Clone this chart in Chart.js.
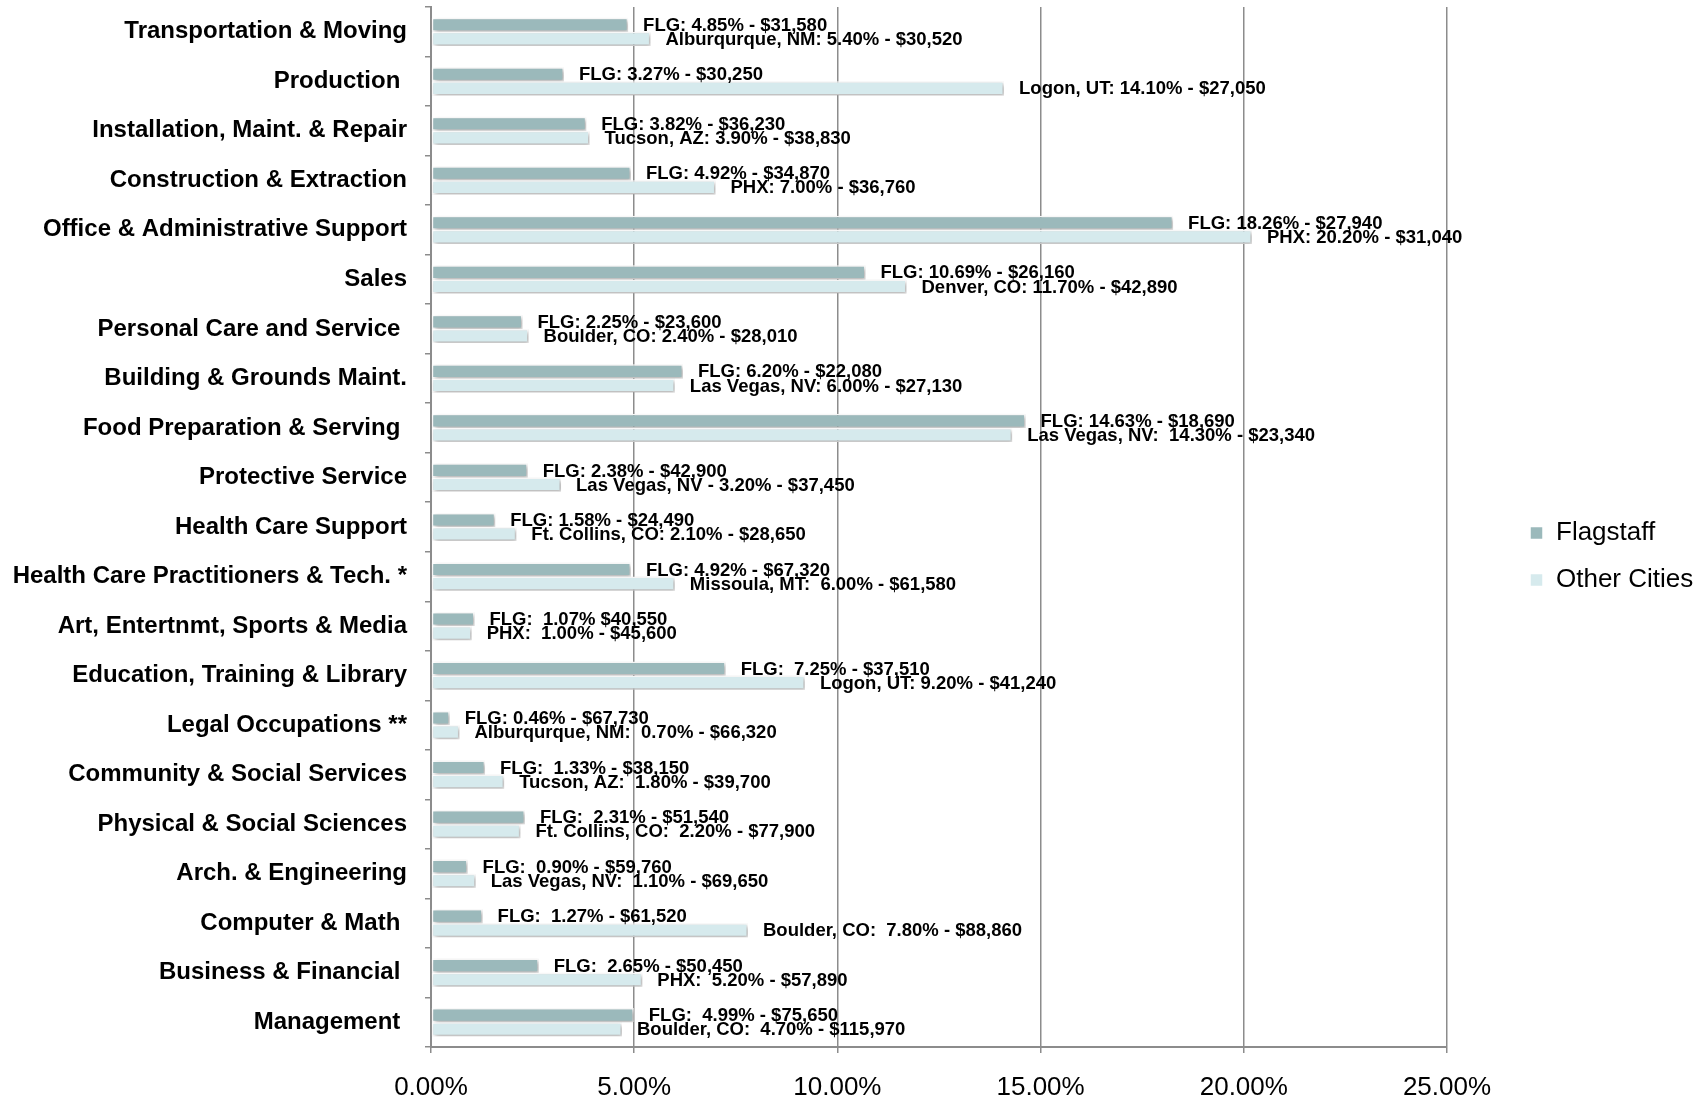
<!DOCTYPE html>
<html>
<head>
<meta charset="utf-8">
<title>Flagstaff vs Other Cities</title>
<script src="https://cdn.jsdelivr.net/npm/chart.js@4"></script>
<style>
  html, body { margin: 0; padding: 0; background: #fff; }
  #wrap { width: 1704px; height: 1099px; }
</style>
</head>
<body>
<div id="wrap"><canvas id="barChart"></canvas></div>
<script>
// Occupation groups, top to bottom (trailing spaces kept as in the original)
const categories = [
    'Transportation & Moving', 'Production ', 'Installation, Maint. & Repair',
    'Construction & Extraction', 'Office & Administrative Support', 'Sales',
    'Personal Care and Service ', 'Building & Grounds Maint.', 'Food Preparation & Serving ',
    'Protective Service', 'Health Care Support', 'Health Care Practitioners & Tech. *',
    'Art, Entertnmt, Sports & Media', 'Education, Training & Library', 'Legal Occupations **',
    'Community & Social Services', 'Physical & Social Sciences', 'Arch. & Engineering',
    'Computer & Math ', 'Business & Financial ', 'Management '
];

// Share of employment (%)
const flagstaffValues = [
    4.85, 3.27, 3.82, 4.92, 18.26, 10.69, 2.25, 6.20, 14.63, 2.38, 1.58,
    4.92, 1.07, 7.25, 0.46, 1.33, 2.31, 0.90, 1.27, 2.65, 4.99
];
const otherCityValues = [
    5.40, 14.10, 3.90, 7.00, 20.20, 11.70, 2.40, 6.00, 14.30, 3.20, 2.10,
    6.00, 1.00, 9.20, 0.70, 1.80, 2.20, 1.10, 7.80, 5.20, 4.70
];

// Bar-end labels
const flagstaffLabels = [
    'FLG: 4.85% - $31,580', 'FLG: 3.27% - $30,250', 'FLG: 3.82% - $36,230',
    'FLG: 4.92% - $34,870', 'FLG: 18.26% - $27,940', 'FLG: 10.69% - $26,160',
    'FLG: 2.25% - $23,600', 'FLG: 6.20% - $22,080', 'FLG: 14.63% - $18,690',
    'FLG: 2.38% - $42,900', 'FLG: 1.58% - $24,490', 'FLG: 4.92% - $67,320',
    'FLG:  1.07% $40,550', 'FLG:  7.25% - $37,510', 'FLG: 0.46% - $67,730',
    'FLG:  1.33% - $38,150', 'FLG:  2.31% - $51,540', 'FLG:  0.90% - $59,760',
    'FLG:  1.27% - $61,520', 'FLG:  2.65% - $50,450', 'FLG:  4.99% - $75,650'
];
const otherCityLabels = [
    'Alburqurque, NM: 5.40% - $30,520', 'Logon, UT: 14.10% - $27,050', 'Tucson, AZ: 3.90% - $38,830',
    'PHX: 7.00% - $36,760', 'PHX: 20.20% - $31,040', 'Denver, CO: 11.70% - $42,890',
    'Boulder, CO: 2.40% - $28,010', 'Las Vegas, NV: 6.00% - $27,130', 'Las Vegas, NV:  14.30% - $23,340',
    'Las Vegas, NV - 3.20% - $37,450', 'Ft. Collins, CO: 2.10% - $28,650', 'Missoula, MT:  6.00% - $61,580',
    'PHX:  1.00% - $45,600', 'Logon, UT: 9.20% - $41,240', 'Alburqurque, NM:  0.70% - $66,320',
    'Tucson, AZ:  1.80% - $39,700', 'Ft. Collins, CO:  2.20% - $77,900', 'Las Vegas, NV:  1.10% - $69,650',
    'Boulder, CO:  7.80% - $88,860', 'PHX:  5.20% - $57,890', 'Boulder, CO:  4.70% - $115,970'
];

// Value axis tick labels
const xTickLabels = ['0.00%', '5.00%', '10.00%', '15.00%', '20.00%', '25.00%'];

const FONT = '"Liberation Sans", Arial, Helvetica, sans-serif';
const GRID_GREY = '#8c8c8c';

// Drop shadow under the bars, then the text next to each bar end
const barDecor = {
    id: 'barDecor',
    beforeDatasetsDraw(chart) {
        const ctx = chart.ctx;
        ctx.save();
        ctx.shadowColor = 'rgba(0, 0, 0, 0.32)';
        ctx.shadowBlur = 4;
        ctx.shadowOffsetX = 2;
        ctx.shadowOffsetY = 2;
    },
    afterDatasetsDraw(chart) {
        const ctx = chart.ctx;
        ctx.restore();
        ctx.save();
        ctx.font = 'bold 18.5px ' + FONT;
        ctx.fillStyle = '#000';
        ctx.textAlign = 'left';
        ctx.textBaseline = 'middle';
        chart.data.datasets.forEach((ds, di) => {
            const meta = chart.getDatasetMeta(di);
            meta.data.forEach((bar, i) => {
                ctx.fillText(ds.barLabels[i], bar.x + 15, bar.y + 1);
            });
        });
        ctx.restore();
    }
};

// Keep the legend off to the right, clear of the plot
const legendPlacer = {
    id: 'legendPlacer',
    beforeLayout(chart) {
        const legend = chart.legend;
        if (legend && !legend._patched) {
            const fit = legend.fit;
            legend.fit = function () {
                fit.call(this);
                this.width = 257;
            };
            legend._patched = true;
        }
    },
    afterLayout(chart) {
        const lg = chart.legend;
        const pad = lg.options.labels.padding;
        const dx = 1530 - pad - lg.left;
        const dy = 520 - pad - lg.top;
        lg.left += dx; lg.right += dx;
        lg.top += dy; lg.bottom += dy;
    }
};

const chartData = {
    labels: categories,
    datasets: [
        {
            label: 'Flagstaff',
            data: flagstaffValues,
            barLabels: flagstaffLabels,
            backgroundColor: '#9bb9bb',
            borderColor: '#ffffff',
            borderWidth: 1.5,
            borderSkipped: false,
        },
        {
            label: 'Other Cities',
            data: otherCityValues,
            barLabels: otherCityLabels,
            backgroundColor: '#d6eaed',
            borderColor: '#ffffff',
            borderWidth: 1.5,
            borderSkipped: false,
        },
    ],
};

const chartOptions = {
    indexAxis: 'y',
    responsive: true,
    maintainAspectRatio: false,
    animation: false,
    categoryPercentage: 0.57,
    barPercentage: 1.0,
    layout: {
        padding: { top: 7, left: 0, right: 0, bottom: 0 },
    },
    scales: {
        x: {
            min: 0,
            max: 25,
            ticks: {
                stepSize: 5,
                color: '#000',
                padding: 19,
                font: { family: FONT, size: 26 },
                callback: (value, index) => xTickLabels[index],
            },
            grid: {
                color: GRID_GREY,
                lineWidth: 1.5,
                tickLength: 6,
            },
            border: { color: GRID_GREY, width: 2 },
            afterFit(scale) {
                scale.height = 52;
                scale.paddingLeft = 0;
                scale.paddingRight = 0;
            },
        },
        y: {
            ticks: {
                color: '#000',
                padding: 18,
                font: { family: FONT, size: 24, weight: 'bold' },
            },
            grid: {
                drawOnChartArea: false,
                color: GRID_GREY,
                lineWidth: 1.5,
                tickLength: 6,
            },
            border: { color: GRID_GREY, width: 2 },
            afterFit(scale) {
                scale.width = 431;
                scale.paddingTop = 0;
                scale.paddingBottom = 0;
            },
        },
    },
    plugins: {
        legend: {
            position: 'right',
            align: 'start',
            labels: {
                color: '#000',
                boxWidth: 13,
                boxHeight: 13,
                padding: 21,
                font: { family: FONT, size: 26 },
            },
        },
        tooltip: { enabled: false },
    },
};

const ctx = document.getElementById('barChart').getContext('2d');
const barChart = new Chart(ctx, {
    type: 'bar',
    data: chartData,
    options: chartOptions,
    plugins: [barDecor, legendPlacer],
});
</script>
</body>
</html>
